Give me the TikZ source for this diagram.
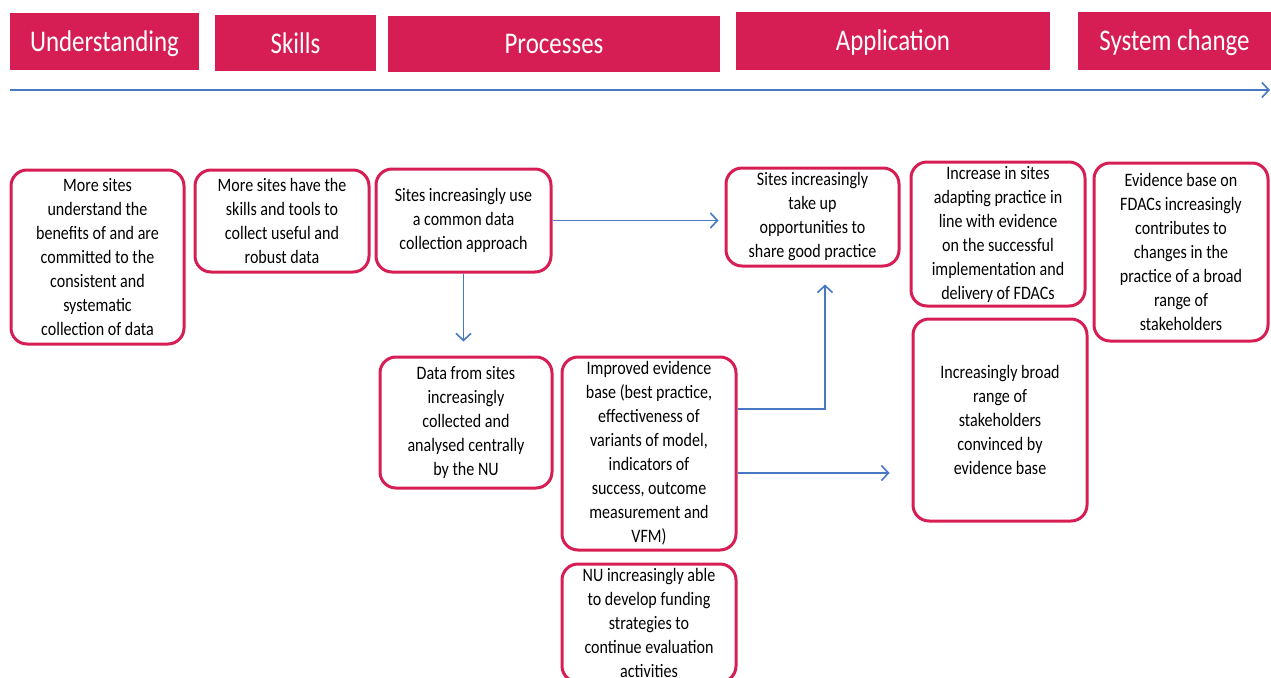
\documentclass[tikz,border=0pt]{standalone}
\usepackage{fontspec}
\setmainfont{Carlito}
\newfontfamily\bodyf[FakeStretch=0.845]{Carlito}
\newfontfamily\headf[FakeStretch=0.83]{Carlito}
\usetikzlibrary{arrows.meta}
\definecolor{crim}{RGB}{214,30,85}
\definecolor{tlblue}{RGB}{70,120,195}
\begin{document}
\begin{tikzpicture}[x=1pt,y=-1pt,
  hdr/.style={fill=crim, draw=none, text=white, inner sep=0pt, text height=20pt, text depth=0pt, font=\headf\fontsize{30}{36}\selectfont},
  box/.style={draw=crim, line width=3pt, rounded corners=16pt, fill=white, inner sep=0pt, align=center, font=\bodyf\fontsize{19}{24}\selectfont},
  arr/.style={draw=tlblue, line width=1.6pt, -{Straight Barb[length=7pt,width=15pt,line width=1.6pt]}}
]
\useasboundingbox (0,0) rectangle (1271,677);
\clip (0,0) rectangle (1271,677);
% headers
\node[hdr, minimum width=189pt, minimum height=57pt] (hU) at (104.5,41.5) {Understanding};
\node[hdr, minimum width=161pt, minimum height=56pt] (hS) at (295.5,43) {Skills};
\node[hdr, minimum width=332pt, minimum height=56pt] (hP) at (554,44) {Processes};
\node[hdr, minimum width=314pt, minimum height=58pt] (hA) at (893,41) {Application};
\node[hdr, minimum width=193pt, minimum height=58pt] (hC) at (1174.5,41) {System change};
% timeline
\coordinate (t0) at (10,90);
\coordinate (t1) at (1270,90);
\draw[arr, line width=2pt] (t0) -- (t1);
% boxes
\node[box, minimum width=173pt, minimum height=174pt] (A) at (97.5,257) {More sites\\understand the\\benefits of and are\\committed to the\\consistent and\\systematic\\collection of data};
\node[box, minimum width=174pt, minimum height=102pt] (B) at (282,221) {More sites have the\\skills and tools to\\collect useful and\\robust data};
\node[box, minimum width=175pt, minimum height=103pt] (C) at (463.5,220.5) {Sites increasingly use\\a common data\\collection approach};
\node[box, minimum width=172pt, minimum height=131pt] (D) at (466,422.5) {Data from sites\\increasingly\\collected and\\analysed centrally\\by the NU};
\node[box, minimum width=174pt, minimum height=193pt] (E) at (649,453.5) {Improved evidence\\base (best practice,\\effectiveness of\\variants of model,\\indicators of\\success, outcome\\measurement and\\VFM)};
\node[box, minimum width=174pt, minimum height=118pt] (F) at (649,623) {NU increasingly able\\to develop funding\\strategies to\\continue evaluation\\activities};
\node[box, minimum width=173pt, minimum height=98pt] (G) at (812.5,217) {Sites increasingly\\take up\\opportunities to\\share good practice};
\node[box, minimum width=174pt, minimum height=144pt] (H) at (998,234) {Increase in sites\\adapting practice in\\line with evidence\\on the successful\\implementation and\\delivery of FDACs};
\node[box, minimum width=174pt, minimum height=202pt] (I) at (1000,420) {Increasingly broad\\range of\\stakeholders\\convinced by\\evidence base};
\node[box, minimum width=174pt, minimum height=178pt] (J) at (1181,252) {Evidence base on\\FDACs increasingly\\contributes to\\changes in the\\practice of a broad\\range of\\stakeholders};
% connectors
\draw[arr, shorten >=6pt] (C.east) -- (C.east -| G.west);
\draw[arr, shorten >=14pt] (C.south) -- (C.south |- D.north);
\draw[arr, shorten >=17pt] ([yshift=44.5pt]E.east) -| ([xshift=12.5pt]G.south);
\draw[arr, shorten >=22pt] ([yshift=-19.5pt]E.east) -- ([yshift=-19.5pt]E.east -| I.west);
\end{tikzpicture}
\end{document}
